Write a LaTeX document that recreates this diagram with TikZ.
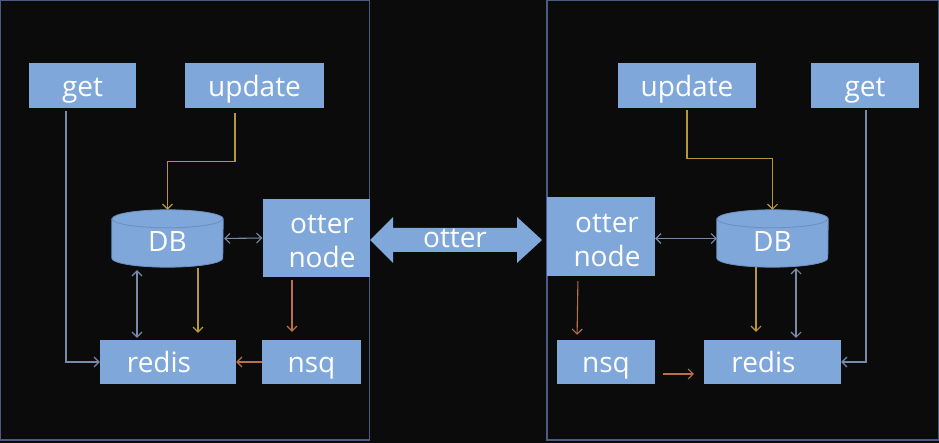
\documentclass[tikz,border=0pt]{standalone}
\usepackage{fontspec}
\setmainfont{Open Sans}
\usetikzlibrary{arrows.meta,backgrounds}
\definecolor{bgc}{HTML}{0B0B0B}
\definecolor{framec}{HTML}{4C5B82}
\definecolor{boxc}{HTML}{7FA7D9}
\definecolor{boxedge}{HTML}{6A8FC0}
\definecolor{grayc}{HTML}{7A8AA6}
\definecolor{goldc}{HTML}{B8963C}
\definecolor{orangec}{HTML}{B8704A}
\tikzset{
  box/.style={rectangle, fill=boxc, text=white, inner sep=0pt,
    font=\fontsize{28}{34}\selectfont, align=center},
  hi/.style={text height=24pt, text depth=2pt},
  lo/.style={text height=22pt, text depth=2pt},
  dbnode/.style={rectangle, inner sep=0pt, text=white, text height=28pt, text depth=2pt,
    minimum width=111pt, minimum height=57pt, font=\fontsize{28}{34}\selectfont},
  frame/.style={draw=framec, line width=1.4pt},
  conn/.style={line width=1.1pt, -{Straight Barb[length=5pt,width=10pt]}},
  bconn/.style={line width=1.1pt, {Straight Barb[length=5pt,width=10pt]}-{Straight Barb[length=5pt,width=10pt]}},
  grayline/.style={draw=grayc},
  goldline/.style={draw=goldc},
  orangeline/.style={draw=orangec},
}
\newcommand{\mydbcyl}[1]{%
  \path[fill=boxc, draw=boxedge, line width=0.8pt]
    ([yshift=-9pt]#1.north west) -- ([yshift=9pt]#1.south west)
    arc[start angle=180, end angle=360, x radius=55.5pt, y radius=9pt]
    -- ([yshift=-9pt]#1.north east)
    arc[start angle=0, end angle=180, x radius=55.5pt, y radius=9pt] -- cycle;
  \draw[boxedge, line width=0.8pt] ([yshift=-9pt]#1.north west)
    arc[start angle=180, end angle=360, x radius=55.5pt, y radius=9pt];
}
\begin{document}
\begin{tikzpicture}[x=1pt, y=-1pt]
\useasboundingbox (0,0) rectangle (939,443);
\begin{pgfonlayer}{background}
\fill[bgc] (0,0) rectangle (939,443);
\end{pgfonlayer}
% frames
\draw[frame] (0.7,0.7) rectangle (369.5,440);
\draw[frame] (547,0.7) rectangle (938.3,440);

% left side nodes
\node[box, hi, minimum width=107pt, minimum height=45pt] (getL) at (82.5,85.5) {get};
\node[box, hi, minimum width=139pt, minimum height=45pt] (updL) at (254.5,85.5) {update};
\node[dbnode] (dbL) at (167.5,238.5) {DB};
\node[box, minimum width=107pt, minimum height=78pt] (otL) at (316,238) {\rule{0pt}{26pt}\hspace*{12pt}otter\\\hspace*{12pt}node};
\node[box, lo, minimum width=136pt, minimum height=44pt] (redisL) at (168,362) {redis\hspace*{18pt}};
\node[box, lo, minimum width=99pt, minimum height=44pt] (nsqL) at (311.5,362) {nsq};

% right side nodes
\node[box, hi, minimum width=138pt, minimum height=45pt] (updR) at (687,85.5) {update};
\node[box, hi, minimum width=108pt, minimum height=45pt] (getR) at (865,85.5) {get};
\node[dbnode] (dbR) at (772.5,238.5) {DB};
\node[box, minimum width=108pt, minimum height=79pt] (otR) at (601,236.5) {\rule{0pt}{26pt}\hspace*{12pt}otter\\\hspace*{12pt}node};
\node[box, lo, minimum width=98pt, minimum height=44pt] (nsqR) at (606,362) {nsq};
\node[box, lo, minimum width=137pt, minimum height=44pt] (redisR) at (772.5,362) {redis\hspace*{18pt}};

\begin{pgfonlayer}{background}
\mydbcyl{dbL}
\mydbcyl{dbR}
\end{pgfonlayer}

% central double arrow
\fill[boxc] (370,240) -- (393,217) -- (393,228) -- (517,228) -- (517,217)
  -- (542,240) -- (517,263) -- (517,252) -- (393,252) -- (393,263) -- cycle;
\node[text=white, font=\fontsize{28}{34}\selectfont, inner sep=0pt, text height=22pt, text depth=2pt] (otterlbl) at (455,238) {otter};

% left connectors
\draw[conn, grayline, shorten <=3pt] ([xshift=-16.5pt]getL.south) |- (redisL.west);
\draw[conn, goldline, shorten <=5pt] ([xshift=-19.5pt]updL.south) |- ([yshift=48pt]dbL.north) -- (dbL.north);
\draw[bconn, grayline, shorten <=1pt] (dbL.east) -- (otL.west);
\draw[bconn, grayline, shorten <=3pt, shorten >=2pt] ([xshift=-30.5pt]dbL.south) -- ([xshift=-30.5pt]dbL.south |- redisL.north);
\draw[conn, goldline, shorten <=1pt, shorten >=7pt] ([xshift=30.5pt]dbL.south) -- ([xshift=30.5pt]dbL.south |- redisL.north);
\draw[conn, orangeline, shorten <=3pt, shorten >=8pt] ([xshift=-24pt]otL.south) -- ([xshift=-24pt]otL.south |- nsqL.north);
\draw[conn, orangeline] (nsqL.west) -- (redisL.east);

% right connectors
\draw[conn, goldline, shorten <=2pt] (updR.south) |- ([yshift=51pt]dbR.north) -- (dbR.north);
\draw[conn, grayline, shorten <=2pt] ([xshift=1pt]getR.south) |- (redisR.east);
\draw[bconn, grayline] (otR.east |- dbR.west) -- (dbR.west);
\draw[conn, goldline, shorten >=8pt] ([xshift=-16.5pt]dbR.south) -- ([xshift=-16.5pt]dbR.south |- redisR.north);
\draw[bconn, grayline, shorten <=1pt, shorten >=2pt] ([xshift=23.5pt]dbR.south) -- ([xshift=23.5pt]dbR.south |- redisR.north);
\draw[conn, orangeline, shorten <=5pt, shorten >=5pt] ([xshift=-23pt]otR.south) -- ([xshift=-24pt]nsqR.north -| otR.south);
\draw[conn, orangeline, shorten <=8pt, shorten >=10pt] ([yshift=-12pt]nsqR.east) -- ([yshift=-12pt]redisR.west);
\end{tikzpicture}
\end{document}
